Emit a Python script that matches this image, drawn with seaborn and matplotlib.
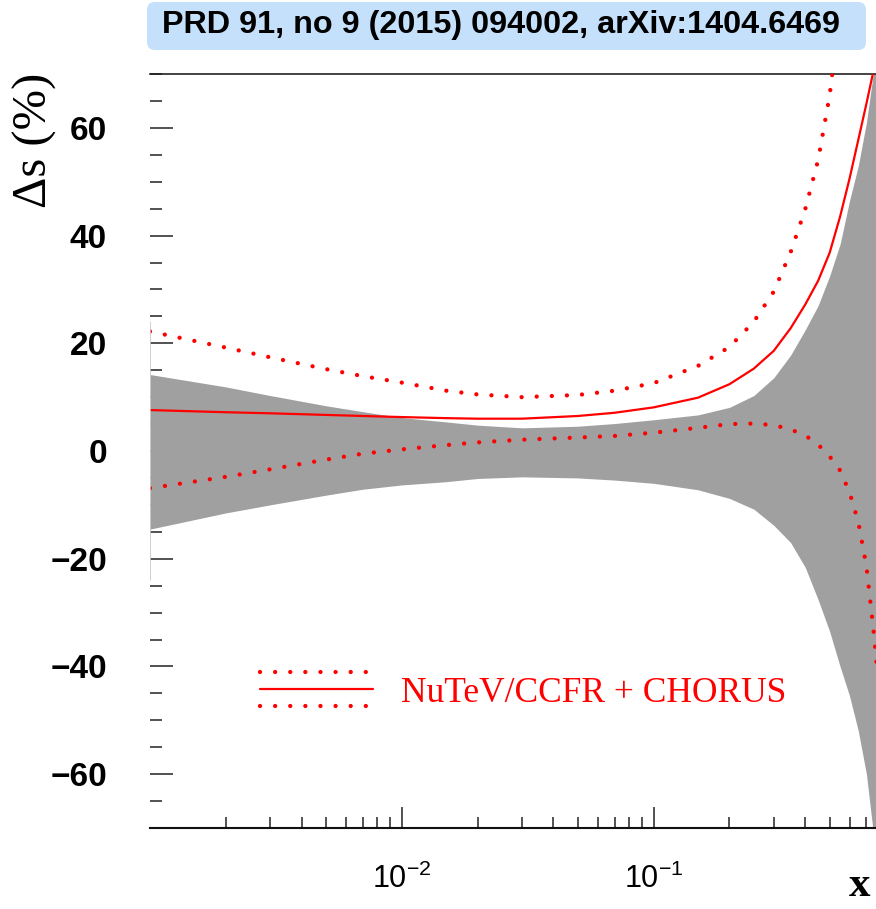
import numpy as np
import pandas as pd
import matplotlib
matplotlib.use("Agg")
import matplotlib.pyplot as plt
import seaborn as sns
from matplotlib.legend_handler import HandlerBase
from matplotlib.lines import Line2D
from matplotlib.patches import FancyBboxPatch
from matplotlib.ticker import LogLocator, NullFormatter, MultipleLocator

# ---------------- data ----------------
x_vals = [0.001, 0.002, 0.003, 0.005, 0.007, 0.01, 0.015, 0.02, 0.03, 0.05,
          0.07, 0.1, 0.15, 0.2, 0.25, 0.3, 0.35, 0.4, 0.45, 0.5,
          0.55, 0.6, 0.65, 0.7, 0.75, 0.77]
band_upper = [14.2, 11.9, 10.3, 8.4, 7.3, 6.2, 5.4, 4.8, 4.3, 4.6,
              5.1, 5.8, 6.7, 8.1, 10.3, 13.6, 17.8, 22.5, 27.0, 32.5,
              38.4, 46.5, 53.0, 61.0, 71.0, 76.0]
band_lower = [-14.5, -11.5, -10.0, -8.2, -7.1, -6.3, -5.7, -5.1, -4.8, -5.0,
              -5.4, -6.0, -7.2, -8.8, -10.8, -13.8, -17.0, -21.6, -27.6, -33.5,
              -40.0, -45.5, -52.0, -60.0, -72.0, -77.0]
central = [7.6, 7.2, 7.0, 6.7, 6.5, 6.3, 6.1, 6.0, 6.0, 6.5,
           7.1, 8.1, 9.9, 12.4, 15.3, 18.6, 22.8, 27.2, 31.6, 36.8,
           43.5, 50.6, 57.8, 64.5, 71.0, 75.0]
x_upper_dotted = [0.001, 0.002, 0.003, 0.005, 0.007, 0.01, 0.015, 0.02, 0.03, 0.05,
                  0.07, 0.1, 0.15, 0.2, 0.25, 0.3, 0.35, 0.4, 0.45, 0.5, 0.55]
upper_dotted = [22.2, 19.2, 17.4, 15.2, 13.9, 12.7, 11.2, 10.5, 10.0, 10.4,
                11.2, 12.6, 15.8, 19.3, 24.0, 29.6, 36.9, 44.9, 54.0, 66.0, 82.0]
lower_dotted = [-6.9, -4.8, -3.4, -1.6, -0.5, 0.3, 1.1, 1.6, 2.1, 2.5,
                2.8, 3.4, 4.3, 5.0, 5.1, 4.8, 4.0, 2.9, 1.2, -1.0,
                -3.6, -7.7, -13.2, -21.4, -34.1, -40.0]

y_ticks = [-60, -40, -20, 0, 20, 40, 60]
y_ticklabels = ["\u221260", "\u221240", "\u221220", "0", "20", "40", "60"]
x_ticks = [0.01, 0.1]
x_ticklabels = [r"$\mathregular{10^{-2}}$", r"$\mathregular{10^{-1}}$"]
title_text = "PRD 91, no 9 (2015) 094002, arXiv:1404.6469"
legend_label = "NuTeV/CCFR + CHORUS"

# ---------------- style ----------------
sns.set_theme(style="white")
plt.rcParams["font.family"] = ["Liberation Sans", "DejaVu Sans"]
plt.rcParams["axes.unicode_minus"] = True

DPI = 100
W, H = 876, 909
fig = plt.figure(figsize=(W / DPI, H / DPI), dpi=DPI)
ax = fig.add_axes([150 / W, 1 - 828 / H, (876 - 150) / W, (828 - 74) / H])

RED = "#ff0000"
DOT_LW = 3.1
DOT = (0, (0.01, 3.5))
SOLID_LW = 1.6

df = pd.DataFrame({"x": x_vals, "lo": band_lower, "hi": band_upper,
                   "c": central, "ld": lower_dotted})
dfu = pd.DataFrame({"x": x_upper_dotted, "ud": upper_dotted})

ax.fill_between(df["x"], df["lo"], df["hi"], color="#a0a0a0", lw=0, zorder=1)
sns.lineplot(data=df, x="x", y="c", ax=ax, color=RED, lw=SOLID_LW, zorder=3,
             sort=False, estimator=None)
sns.lineplot(data=dfu, x="x", y="ud", ax=ax, color=RED, lw=DOT_LW, zorder=3,
             sort=False, estimator=None)
ax.lines[-1].set_linestyle(DOT)
ax.lines[-1].set_dash_capstyle("round")
sns.lineplot(data=df, x="x", y="ld", ax=ax, color=RED, lw=DOT_LW, zorder=3,
             sort=False, estimator=None)
ax.lines[-1].set_linestyle(DOT)
ax.lines[-1].set_dash_capstyle("round")

ax.set_xscale("log")
ax.set_xlim(0.001, 0.764)
ax.set_ylim(-70, 70)
ax.set_xlabel("")
ax.set_ylabel("")

# spines
for s in ["left", "right"]:
    ax.spines[s].set_visible(False)
ax.spines["top"].set_color("#222222")
ax.spines["top"].set_linewidth(1.2)
ax.spines["bottom"].set_color("#111111")
ax.spines["bottom"].set_linewidth(1.5)
ax.axvline(0.001, ymin=(70 - 24) / 140, ymax=(70 + 24) / 140, color="#c8c8c8", lw=1.2, zorder=4)

# ticks
ax.set_yticks(y_ticks, y_ticklabels, fontweight="bold", fontsize=24)
ax.yaxis.set_minor_locator(MultipleLocator(5))
ax.set_xticks(x_ticks, x_ticklabels, fontsize=22)
ax.xaxis.set_minor_locator(LogLocator(base=10, subs=np.arange(2, 10)))
ax.xaxis.set_minor_formatter(NullFormatter())
ax.tick_params(axis="y", which="major", direction="in", length=16.5, width=1.1,
               color="#222222", pad=31, left=True, labelcolor="black")
ax.tick_params(axis="y", which="minor", direction="in", length=8.5, width=1.1,
               color="#222222", left=True)
ax.tick_params(axis="x", which="major", direction="in", length=15, width=1.1,
               color="#222222", pad=26, bottom=True, labelcolor="black")
ax.tick_params(axis="x", which="minor", direction="in", length=8, width=1.1,
               color="#222222", bottom=True)


# legend with dotted / solid / dotted handle
class TripleHandler(HandlerBase):
    def create_artists(self, legend, orig_handle, xdescent, ydescent,
                       width, height, fontsize, trans):
        yc = height / 2 - ydescent
        off = 12.3
        arts = []
        for dy, ls, lw in [(off, DOT, DOT_LW), (0, "-", SOLID_LW), (-off, DOT, DOT_LW)]:
            ln = Line2D([-xdescent + 1.5, -xdescent + width], [yc + dy, yc + dy],
                        color=RED, lw=lw, linestyle=ls, dash_capstyle="round")
            ln.set_transform(trans)
            arts.append(ln)
        return arts


proxy = Line2D([], [], color=RED)
leg = ax.legend([proxy], [legend_label], handler_map={Line2D: TripleHandler()},
                loc="center left", bbox_to_anchor=((258 - 150) / 726, (828 - 693) / 754),
                frameon=False, borderpad=0, borderaxespad=0, handlelength=3.25,
                handletextpad=0.78, labelcolor=RED,
                prop={"family": "Liberation Serif", "size": 25.5})

# axis labels
fig.text(35 / W, 1 - 140 / H, "\u0394s (%)", rotation=90, ha="center", va="center",
         family="Liberation Serif", fontsize=35, color="black")
fig.text(860 / W, 1 - 886 / H, "x", ha="center", va="center",
         family="Liberation Serif", fontweight="bold", fontsize=31, color="black")

# title box
box = FancyBboxPatch((1.47, (H - 50) / DPI), 7.19, 0.48,
                     boxstyle="round,pad=0,rounding_size=0.08",
                     transform=fig.dpi_scale_trans, facecolor="#c4e0fb",
                     edgecolor="none", zorder=0)
fig.patches.append(box)
fig.text(501.5 / W, 1 - 25 / H, title_text, ha="center", va="center",
         fontweight="bold", fontsize=23.3, color="black")

fig.savefig("out.png", dpi=DPI)
